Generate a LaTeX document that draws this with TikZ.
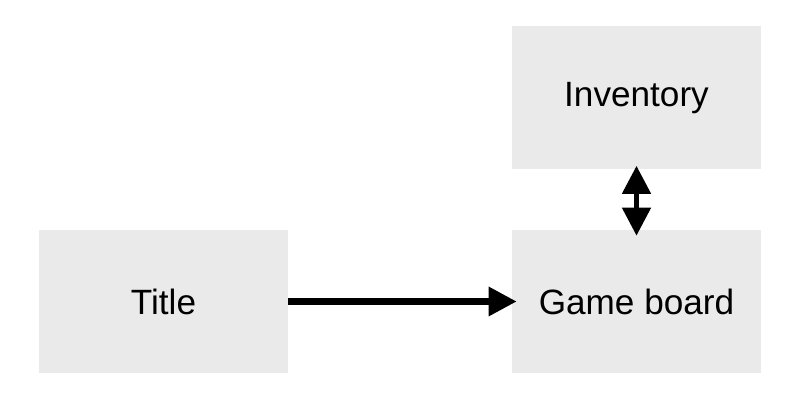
\documentclass[tikz,border=0pt]{standalone}
\usepackage{fontspec}
\setmainfont{Liberation Sans}
\usetikzlibrary{arrows.meta, positioning}
\definecolor{boxgray}{RGB}{234, 234, 234}

\begin{document}
\begin{tikzpicture}[
  screen/.style={fill=boxgray, minimum width=4.98cm, minimum height=2.86cm, font=\fontsize{20}{24}\selectfont, inner sep=0pt},
  flow/.style={line width=3.6pt, -{Triangle[length=0.56cm, width=0.56cm]}},
]
  \useasboundingbox (0,0) rectangle (16,8);

  % Screens
  \node[screen] (title) at (3.27,1.97) {Title};
  \node[screen] (board) at (12.73,1.97) {Game board};
  \node[screen] (inv) at (12.73,6.04) {Inventory};

  % Transitions
  \draw[flow, shorten >=-0.1cm] (title) -- (board);
  \draw[flow, {Triangle[length=0.56cm, width=0.56cm]}-{Triangle[length=0.56cm, width=0.56cm]}, line width=2.8pt, shorten <=-0.08cm, shorten >=-0.12cm] (inv) -- (board);
\end{tikzpicture}
\end{document}
